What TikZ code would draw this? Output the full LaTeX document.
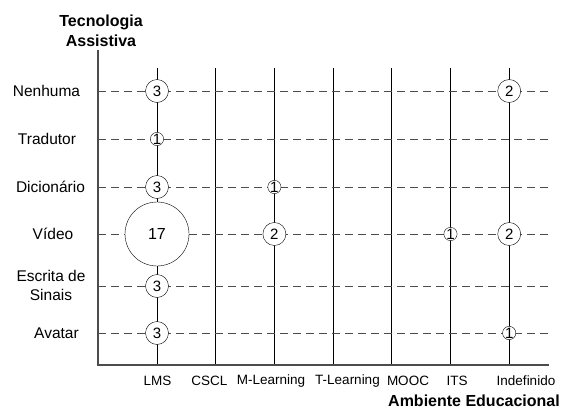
\documentclass[tikz,border=0pt]{standalone}
\usepackage{fontspec}
\setmainfont{Liberation Sans}

\begin{document}
\begin{tikzpicture}[x=1pt,y=-1pt,
        bubble/.style={draw,circle,fill=white,inner sep=0pt,font=\fontsize{15}{15}\selectfont},
        bubblesmall/.style={bubble,minimum size=13pt},
        bubblemid/.style={bubble,minimum size=23pt},
        bubblebig/.style={bubble,minimum size=64pt,font=\fontsize{16}{16}\selectfont},
        rowlabel/.style={align=center,font=\fontsize{15.5}{19}\selectfont},
        collabel/.style={font=\fontsize{13.5}{16}\selectfont},
        axistitle/.style={align=center,inner sep=0pt,font=\fontsize{16}{20}\selectfont\bfseries}]
        \useasboundingbox (0,0) rectangle (563,410);

        \foreach \i in {0,...,6}
            \draw[line width=0.7pt] (157+58.7*\i,68) -- (157+58.7*\i,365);
        \foreach \y in {91,139,187,234,286,333}
            \draw[black!70,line width=0.8pt,dash pattern=on 8pt off 5pt] (98,\y) -- (549,\y);

        \draw[black!70,line width=1.8pt] (98,50) -- (98,365) -- (549,365);

        \node[axistitle] (tecnologia) at (101,31) {Tecnologia\\Assistiva};
        \node[axistitle,anchor=base east] (ambiente) at (560,406.5) {Ambiente Educacional};

        \foreach \x/\y/\name/\txt in {46.5/91/nenhuma/Nenhuma,47/139/tradutor/Tradutor,50.5/187/dicionario/Dicionário,
                53/234/video/Vídeo,51/285/escrita/{Escrita de\\Sinais},56.5/333/avatar/Avatar}
            \node[rowlabel] (\name) at (\x,\y) {\txt};

        \foreach \x/\name/\txt in {157.5/lms/LMS,209.5/cscl/CSCL,271/mlearning/M-Learning,347.5/tlearning/T-Learning,
                408/mooc/MOOC,457/its/ITS,526/indefinido/Indefinido}
            \node[collabel] (\name) at (\x,381) {\txt};

        \node[bubblemid] (lms-nenhuma) at (157,91) {3};
        \node[bubblesmall] (lms-tradutor) at (157,139) {1};
        \node[bubblemid] (lms-dicionario) at (157,187) {3};
        \node[bubblebig] (lms-video) at (157,234) {17};
        \node[bubblemid] (lms-escrita) at (157,286) {3};
        \node[bubblemid] (lms-avatar) at (157,333) {3};

        \node[bubblesmall] (mlearning-dicionario) at (274.4,187) {1};
        \node[bubblemid] (mlearning-video) at (274.4,234) {2};

        \node[bubblesmall] (its-video) at (450.5,234) {1};

        \node[bubblemid] (indefinido-nenhuma) at (509.2,91) {2};
        \node[bubblemid] (indefinido-video) at (509.2,234) {2};
        \node[bubblesmall] (indefinido-avatar) at (509.2,333) {1};
    \end{tikzpicture}
\end{document}
